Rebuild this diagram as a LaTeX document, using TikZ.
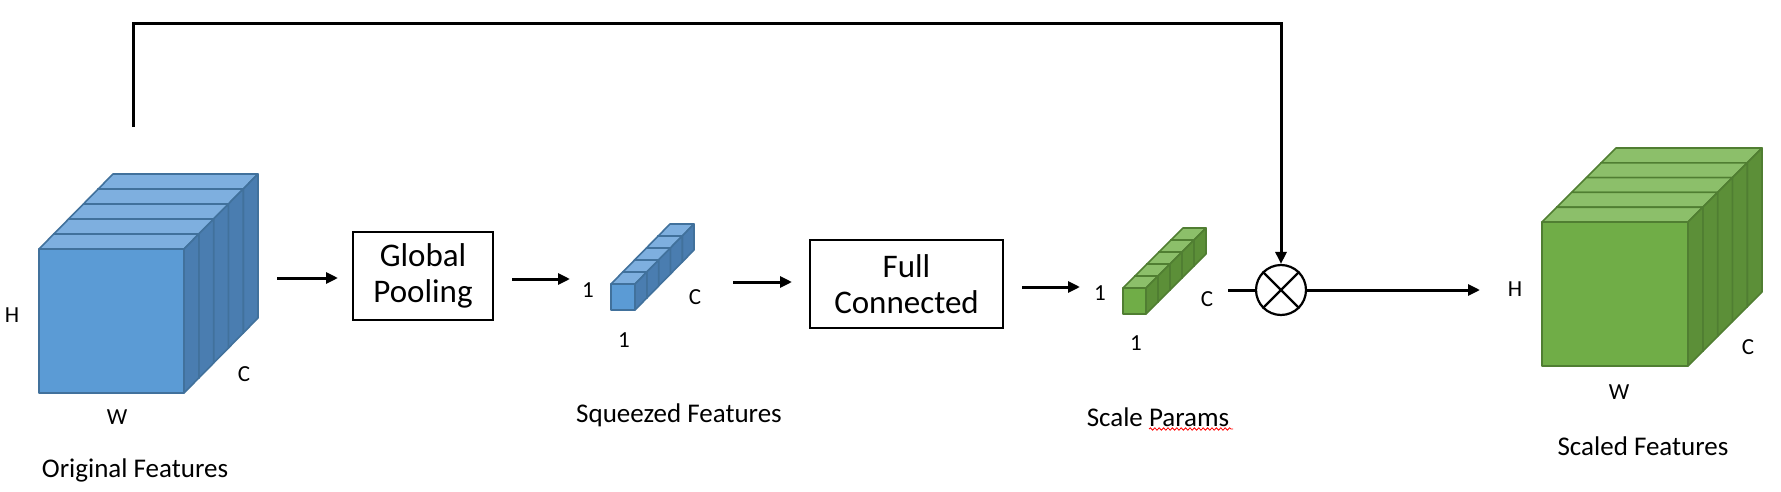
\documentclass[tikz,border=0pt]{standalone}
\usepackage{fontspec}
\setmainfont{Carlito}
\usetikzlibrary{arrows.meta,decorations.pathmorphing}
\definecolor{bfront}{HTML}{5B9BD5}
\definecolor{btop}{HTML}{7EAFDF}
\definecolor{bside}{HTML}{4A7DB0}
\definecolor{bedge}{HTML}{41719C}
\definecolor{gfront}{HTML}{70AD47}
\definecolor{gtop}{HTML}{8CBF6A}
\definecolor{gside}{HTML}{5C8F38}
\definecolor{gedge}{HTML}{507E32}
\newcommand{\boxfont}{\fontsize{16.5}{18}\selectfont}
\newcommand{\capfont}{\fontsize{13.5}{16}\selectfont}
\newcommand{\labfont}{\fontsize{11.5}{13}\selectfont}
% #1 x, #2 y (top-left of front face), #3 w, #4 h, #5 dx, #6 dy, #7 n-1, #8 colour prefix
\newcommand{\featstack}[8]{%
  \foreach \i in {#7,...,0}{%
    \begin{scope}[shift={(\i*#5,-\i*#6)}]
      \filldraw[fill=#8front,draw=#8edge,facetline] (#1,#2) rectangle ++(#3,#4);
      \filldraw[fill=#8top,draw=#8edge,facetline] (#1,#2) -- ++(#5,-#6) -- ++(#3,0) -- ++(-#5,#6) -- cycle;
      \filldraw[fill=#8side,draw=#8edge,facetline] (#1+#3,#2) -- ++(#5,-#6) -- ++(0,#4) -- ++(-#5,#6) -- cycle;
    \end{scope}}}
\tikzset{
  facetline/.style={line width=0.8pt,line join=round},
  connline/.style={line width=1.5pt},
  arrline/.style={connline,-{Triangle[length=6pt,width=5.5pt]}},
  opbox/.style={draw,line width=1.1pt,align=center,inner sep=0pt,font=\boxfont},
  captext/.style={anchor=base,font=\capfont,inner sep=0pt},
  labtext/.style={font=\labfont,inner sep=0pt}
}
\begin{document}
\begin{tikzpicture}[x=0.5pt,y=-0.5pt]
\useasboundingbox (0,0) rectangle (1781,492);

% original features cube
\featstack{39}{249}{145}{144}{14.8}{15}{4}{b}
\node[labtext] (oH) at (12,315) {H};
\node[labtext] (oW) at (117,417) {W};
\node[labtext] (oC) at (244,374) {C};
\node[captext] (ocap) at (135,477) {Original Features};

% global pooling
\node[opbox,minimum width=70pt,minimum height=44pt] (gp) at (423,276) {Global\\Pooling};
\coordinate (a1s) at (277,278);
\coordinate (a1e) at (338,278);
\draw[arrline] (a1s) -- (a1e);

% squeezed features bar
\coordinate (a2s) at (512,279);
\coordinate (a2e) at (570,279);
\draw[arrline] (a2s) -- (a2e);
\featstack{611}{284}{24}{26}{11.8}{12}{4}{b}
\node[labtext] (s1a) at (588,290) {1};
\node[labtext] (sC) at (695,297) {C};
\node[labtext] (s1b) at (624,340) {1};
\node[captext] (scap) at (679,422) {Squeezed Features};

% full connected
\coordinate (a3s) at (733,282);
\coordinate (a3e) at (792,282);
\draw[arrline] (a3s) -- (a3e);
\node[opbox,minimum width=96.5pt,minimum height=44pt] (fc) at (906.5,284) {Full\\Connected};

% scale params bar
\coordinate (a4s) at (1022,287);
\coordinate (a4e) at (1080,287);
\draw[arrline] (a4s) -- (a4e);
\featstack{1123}{288}{23}{26}{12}{12}{4}{g}
\node[labtext] (p1a) at (1100,293) {1};
\node[labtext] (pC) at (1207,299) {C};
\node[labtext] (p1b) at (1136,343) {1};
\node[captext] (pcap) at (1158,426) {Scale Params};
\draw[red,line width=0.4pt,decorate,decoration={snake,amplitude=0.6pt,segment length=2.2pt}] (1149,429) -- (1233,429);

% multiplication
\node[circle,draw,line width=1.1pt,minimum size=25pt,inner sep=0pt] (mul) at (1281,290) {};
\draw[line width=1.1pt] (mul.north west) -- (mul.south east);
\draw[line width=1.1pt] (mul.north east) -- (mul.south west);
\coordinate (pout) at (1228,290);
\draw[connline] (pout) -- (mul.west);
\coordinate (fb) at (133,127);
\coordinate (fbtop) at (133,24);
\draw[arrline,line join=miter] (fb) -- (fbtop) -| (mul.north);
\coordinate (outend) at (1480,290);
\draw[arrline] (mul.east) -- (outend);

% scaled features cube
\featstack{1542}{222}{146}{144}{14.8}{14.8}{4}{g}
\node[labtext] (fH) at (1515,289) {H};
\node[labtext] (fW) at (1619,392) {W};
\node[labtext] (fC) at (1748,347) {C};
\node[captext] (fcap) at (1643,455) {Scaled Features};
\end{tikzpicture}
\end{document}
